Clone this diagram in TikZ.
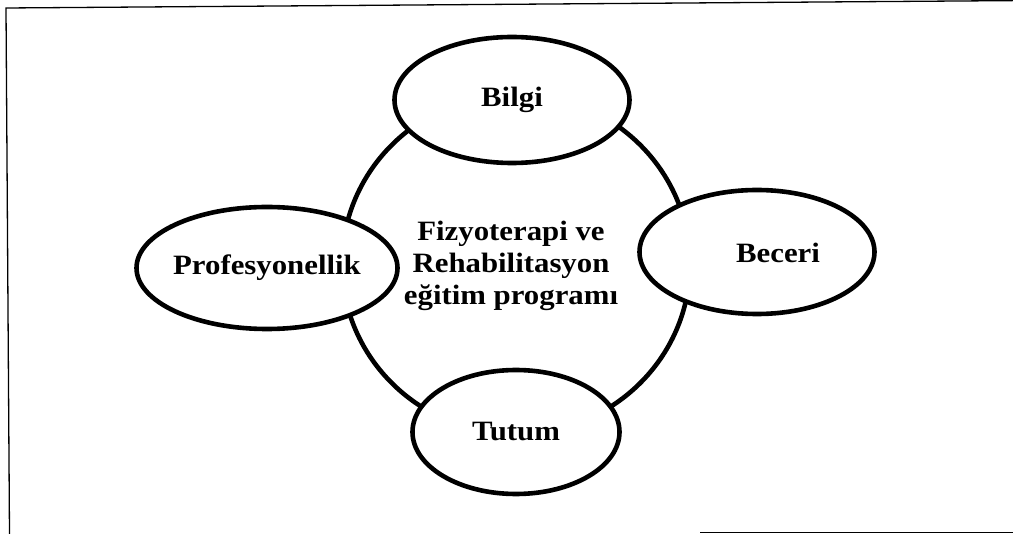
\documentclass[tikz,border=0pt]{standalone}
\usepackage{fontspec}
\setmainfont[FakeStretch=1.1]{Liberation Serif}
\usetikzlibrary{shapes.geometric}
\begin{document}
\begin{tikzpicture}[x=1pt,y=-1pt,
  oval/.style={draw, ellipse, line width=4.6pt, fill=white, inner sep=0pt},
  lbl/.style={font=\fontsize{28}{32}\selectfont\bfseries, align=center, inner sep=0pt},
  frame/.style={line width=1.3pt}]
\useasboundingbox (0,0) rectangle (1013,534);
% frame
\coordinate (ftr) at (1013,0.6);
\coordinate (ftl) at (6,8);
\coordinate (fbl) at (9.5,534);
\coordinate (fbs) at (700,532.5);
\coordinate (fbr) at (1013,532.5);
\draw[frame] (ftr) -- (ftl) -- (fbl);
\draw[frame] (fbs) -- (fbr);
% central ring
\node[draw, ellipse, line width=4.6pt, minimum width=348pt, minimum height=340pt, inner sep=0pt] (hub) at (516,264) {};
\node[lbl] (hubtext) at (511,266) {Fizyoterapi ve\\Rehabilitasyon\\eğitim programı};
% ovals
\node[oval, minimum width=235pt, minimum height=126pt] (bilgi) at (512,100) {};
\node[lbl] (bilgitext) at (bilgi.center) {Bilgi};
\node[oval, minimum width=261pt, minimum height=122pt] (prof) at (267,268) {};
\node[lbl] (proftext) at (prof.center) {Profesyonellik};
\node[oval, minimum width=235pt, minimum height=124pt] (beceri) at (757,252) {};
\node[lbl] (becerítext) at (778,253) {Beceri};
\node[oval, minimum width=207pt, minimum height=124pt] (tutum) at (516,432) {};
\node[lbl] (tutumtext) at (tutum.center) {Tutum};
\end{tikzpicture}
\end{document}
